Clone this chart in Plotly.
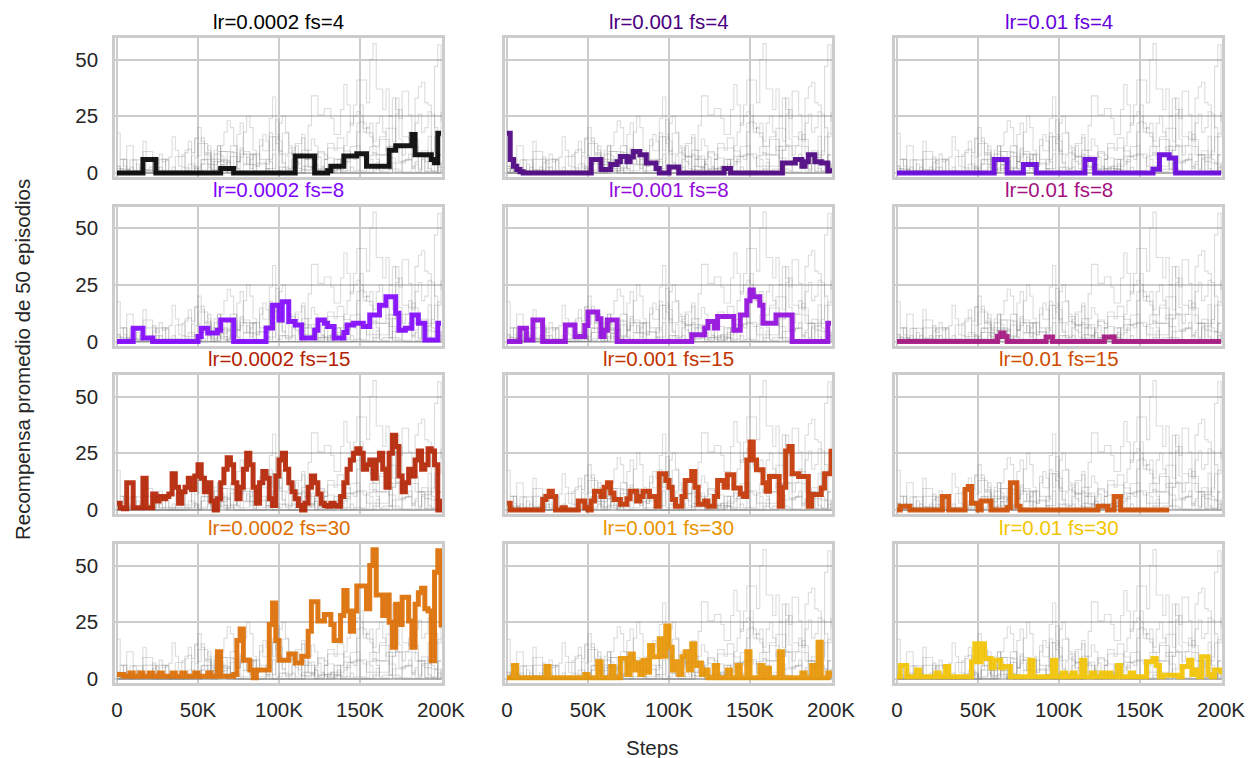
import plotly.graph_objects as go

# x positions (training steps)
STEPS = [i * 2000 for i in range(101)]

TITLES = ["lr=0.0002 fs=4", "lr=0.001 fs=4", "lr=0.01 fs=4",
          "lr=0.0002 fs=8", "lr=0.001 fs=8", "lr=0.01 fs=8",
          "lr=0.0002 fs=15", "lr=0.001 fs=15", "lr=0.01 fs=15",
          "lr=0.0002 fs=30", "lr=0.001 fs=30", "lr=0.01 fs=30"]

X_TICKS = [0, 50000, 100000, 150000, 200000]
X_TICKTEXT = ["0", "50K", "100K", "150K", "200K"]
Y_TICKS = [0, 25, 50]

S_0002_4 = [0,0,0,0,0,0,0,0,6,6,
            6,6,0,0,0,0,0,0,0,0,
            0,0,0,0,0,0,0,0,0,0,
            0,0,2,2,2,2,0,0,0,0,
            0,0,0,0,0,0,0,0,0,0,
            0,0,0,0,0,7.5,7.5,7.5,7.5,7.5,
            7.5,0,0,0,0,1,3,3,3,3,
            7.5,7.5,7.5,7.5,8.5,8.5,8.5,3,3,3,
            3,3,3,3,10,10,12,12,12,12,
            12,17,8,8,8,8,8,6,4.5,17.5,
            17.5]
S_001_4 = [17.5,6,3,1.5,0.5,0,0,0,0,0,
           0,0,0,0,0,0,0,0,0,0,
           0,0,0,0,0,0,6,6,6,1.5,
           1.5,1.5,3.7,3.7,5,7.3,7.3,5,7,9.5,
           9.5,8,8,4.4,4.4,4.4,2,0,0,0,
           2.6,2.6,2.6,0,0,0,0,0,0,0,
           0,0,0,0,0,0,0,2,2,0,
           0,0,0,0,0,0,0,0,0,0,
           0,0,0,0,0,4.4,4.4,4.4,4.4,6,
           6,3,5,8,8,5,5,4.4,4.4,1,
           0]
S_01_4 = [0,0,0,0,0,0,0,0,0,0,
          0,0,0,0,0,0,0,0,0,0,
          0,0,0,0,0,0,0,0,0,0,
          6,6,6,6,0,0,0,0,0,3.7,
          3.7,3.7,3.7,0,0,0,0,0,0,0,
          0,0,0,0,0,0,0,0,6,6,
          6,0,0,0,0,0,0,0,0,0,
          0,0,0,0,0,0,0,0,0,1.7,
          1.7,8,8,8,6.6,6.6,0,0,0,0,
          0,0,0,0,0,0,0,0,0,0,
          0]
S_0002_8 = [0,0,0,0,0,5.8,5.8,5.8,1.5,1.5,
            1.5,0,0,0,0,0,0,0,0,0,
            0,0,0,0,0,2.2,5.8,5.8,3.7,3.7,
            3.7,5,9.5,9.5,9.5,9.5,0,0,0,0,
            0,0,0,0,0,0,6,6,16,16,
            9.5,17.5,17.5,8.8,8.8,7.3,7.3,1.5,1.5,1.5,
            1.5,5,9.5,9.5,8,6.6,6.6,1.5,1.5,1.5,
            4,7.3,7.3,8,8,8,6.6,6.6,11.7,11.7,
            11.7,16,16,19.7,19.7,19.7,12.4,5,5,5.8,
            5.8,11.7,11.7,8,8,0.7,0.7,0.7,0.7,8,
            8]
S_001_8 = [0,0,0,0,5.8,5.8,0.7,0.7,9.5,9.5,
           9.5,0,0,0,0,0,0,0,7.3,7.3,
           7.3,2.2,2.2,2.2,7,13,13,13,10,2.2,
           5,9.5,9.5,9.5,0,0,0,0,0,0,
           0,0,0,0,0,0,0,0,0,0,
           0,0,0,0,0,0,0,3,3,3,
           3,6,8.8,8.8,6,11,11,11,11,11,
           5,5,11.7,11.7,18,22.7,19.7,19.7,16,8,
           8,8,8,11.7,11.7,11.7,11.7,11.7,0,0,
           0,0,0,0,0,0,0,0,0,8,
           8]
S_01_8 = [0,0,0,0,0,0,0,0,0,0,
          0,0,0,0,0,0,0,0,0,0,
          0,0,0,0,0,0,0,0,0,0,
          0,2.2,3.7,2.2,0,0,0,0,0,0,
          0,0,0,0,0,0,2,2,0,0,
          0,0,0,0,0,0,0,0,0,0,
          0,0,0,0,2,2,2,0,0,0,
          0,0,0,0,0,0,0,0,0,0,
          0,0,0,0,0,0,0,0,0,0,
          0,0,0,0,0,0,0,0,0,0,
          0]
S_0002_15 = [3,1,0.5,12,12,1,1,1,14,1,
             1,7,4,6,5,6,7,16,10,3,
             8,10,14,9,15,20,14,8,12,4,
             0,5,12,18,23,20,12,5,10,18,
             25,20,10,3,12,17,14,5,2,15,
             22,25,18,12,8,5,2,0,3,10,
             15,12,7,3,2,1.7,3,2,1.7,6,
             12,18,22,25,27,25,18,20,22,14,
             22,25,18,10,25,33,28,15,8,12,
             18,15,22,26,18,20,27,26,20,0,
             5]
S_001_15 = [3,0,0,0,0,0,0,0,0,0,
            0,4.6,6,8.3,6,0,0,1,0,0,
            0,0,4,4,1,0,4,8.3,8.3,6,
            10,12,7.5,4.6,4.6,2.5,2.5,5,8.3,8.3,
            4,6,8.3,8.3,6,6,1.7,16,16,13,
            10,4.6,1.7,1.7,6,13,13,17,10,2.5,
            2.5,4,1.7,1.7,6,13,13,10,15.5,15.5,
            9.7,9.7,7,6,22,30,22,17.7,17.7,12,
            8.3,14.8,14.8,14.8,1.7,10,26,28,16,16,
            14.8,14.8,14.8,1.7,6.8,6.8,6.8,9.7,16,16,
            27]
S_01_15 = [0,1.7,1.7,1.7,0,0,0,0,0,0,
           0,0,0,0,6,6,0,0,0,0,
           0,9,10.4,3,3,0,4,4,4,0,
           0,0,0,0,1,12,12,1.7,0,0,
           0,0,0,0,0,0,0,0,0,0,
           0,0,0,0,0,0,0,0,0,0,
           0,0,1.7,1.7,1.7,0,0,6,6,0,
           0,0,0,0,0,0,0,0,0,0,
           0,0,0,0,0,None,None,None,None,None,
           None,None,None,None,None,None,None,None,None,None,
           None]
S_0002_30 = [2,2,1.2,1.2,2.6,1.2,1.2,2.6,1.2,1.2,
             2.6,1.2,1.2,2.6,1.2,1.2,1.2,2.6,1.2,1.2,
             2.6,1.2,1.2,1.2,2.6,1.2,1.2,1.2,2.6,1.2,
             1.2,12,1.2,1.2,1.2,1.2,2,17,22,8.3,
             8.3,4,0.5,4,4,4,4,24,33.5,17,
             8.3,8.3,8.3,11,11,7,7,10,10,21,
             34,34,25.6,25.6,28.4,28.4,24,17,17,28,
             39,30,21,30,41,41,41,31,50,57,
             37,37,28,37,25,14,33,24,36,36,
             25.6,14,33,38,40,31,30,8,47,56.5,
             22.7]
S_001_30 = [0.5,0.5,6,0.5,0.5,0.5,0.5,0.5,0.5,0.5,
            0.5,0.5,5.5,0.5,0.5,0.5,0.5,0.5,0.5,0.5,
            0.5,0.5,0.5,0.5,2,0.5,0.5,0.5,7.6,0.5,
            0.5,0.5,5.5,0.5,0.5,9,9,2,11,4,
            7,2,8.3,3,14.8,9.8,9.8,17.7,10,23.4,
            14,4,7.6,2,9.8,12,4,15.5,6,7,
            2,4,0.5,0.5,6,0.5,0.5,0.5,4,0.5,
            0.5,6,0.5,0.5,12,0.5,0.5,0.5,6,0.5,
            4.7,0.5,0.5,0.5,12,0.5,0.5,0.5,0.5,0.5,
            0.5,2.6,0.5,0.5,6,0.5,16.2,0.5,0.5,2.6,
            0.5]
S_01_30 = [1,6,6,1,1,1,4,1,1,1,
           1,1,2.6,1,1,5.5,1,1,1,1,
           1,1,1,7.6,15.5,7.6,15.5,9,9,5,
           8.3,8.3,5,5.5,5.5,1,1,1,1,1,
           1,8.3,1,1,1,1,1,1,8.3,1,
           1,2.6,1,1,2.6,1,1,8.3,1,1,
           2.6,1,1,2.6,1,2.6,1,1,6,1,
           1,1,2.6,1,1,1,1,7.6,7.6,9,
           6,1,1.7,1.7,1.7,1.7,1.7,1,5.5,5.5,
           8.3,2,4,1,9.8,9.8,2,1,4,4,
           2]

SERIES = [S_0002_4, S_001_4, S_01_4, S_0002_8, S_001_8, S_01_8,
          S_0002_15, S_001_15, S_01_15, S_0002_30, S_001_30, S_01_30]

COLORS = ["#000000", "#4a0080", "#6801dd", "#8004ff", "#9309dd", "#a51280",
          "#b42000", "#c33300", "#d04c00", "#dd6c00", "#e99400", "#f4c400"]

W, H = 1249, 758
COL_LEFT = [115, 505, 895]
COL_W = 327
ROW_TOP = [38, 206.5, 375, 544]
ROW_H = 139
FONT = "Liberation Sans, Arial, sans-serif"
FS = 20.5
TXT = "#262626"
GRID = "#cccccc"

fig = go.Figure()
annotations = []
for p in range(12):
    r, c = divmod(p, 3)
    n = "" if p == 0 else str(p + 1)
    xa, ya = "x" + n, "y" + n
    for s in SERIES:
        fig.add_trace(go.Scatter(x=STEPS, y=s, mode="lines", xaxis=xa, yaxis=ya,
                                 line=dict(color="rgba(128,128,128,0.28)", width=1.1, shape="hv"),
                                 showlegend=False, hoverinfo="skip"))
    fig.add_trace(go.Scatter(x=STEPS, y=SERIES[p], mode="lines", xaxis=xa, yaxis=ya,
                             line=dict(color=COLORS[p], width=5, shape="hv"),
                             opacity=0.9, showlegend=False, name=TITLES[p]))
    L = COL_LEFT[c]
    T = ROW_TOP[r]
    fig.layout["xaxis" + n] = dict(
        domain=[L / W, (L + COL_W) / W], anchor=ya, range=[-1230, 200600],
        tickvals=X_TICKS, ticktext=X_TICKTEXT, showticklabels=(r == 3),
        showgrid=True, gridcolor=GRID, gridwidth=1.6, zeroline=False,
        showline=True, linecolor=GRID, linewidth=2.6, mirror=True, automargin=False,
        ticks="outside", ticklen=7, tickcolor="rgba(0,0,0,0)",
        tickfont=dict(family=FONT, size=FS, color=TXT))
    fig.layout["yaxis" + n] = dict(
        domain=[1 - (T + ROW_H) / H, 1 - T / H], anchor=xa, range=[-1.76, 59.5],
        tickvals=Y_TICKS, showticklabels=(c == 0),
        showgrid=True, gridcolor=GRID, gridwidth=1.6, zeroline=False,
        showline=True, linecolor=GRID, linewidth=2.6, mirror=True, automargin=False,
        ticks="outside", ticklen=10, tickcolor="rgba(0,0,0,0)",
        tickfont=dict(family=FONT, size=FS, color=TXT))
    annotations.append(dict(text=TITLES[p], x=(L + COL_W / 2) / W, y=1 - (T - 3) / H,
                            xref="paper", yref="paper", xanchor="center", yanchor="bottom",
                            showarrow=False, font=dict(family=FONT, size=FS, color=COLORS[p])))

annotations.append(dict(text="Steps", x=652 / W, y=1 - 747 / H, xref="paper", yref="paper",
                        xanchor="center", yanchor="middle", showarrow=False,
                        font=dict(family=FONT, size=FS, color=TXT)))
annotations.append(dict(text="Recompensa promedio de 50 episodios", x=22 / W, y=1 - 360 / H,
                        xref="paper", yref="paper", xanchor="center", yanchor="middle",
                        textangle=-90, showarrow=False,
                        font=dict(family=FONT, size=FS, color=TXT)))

fig.update_layout(width=W, height=H, margin=dict(l=0, r=0, t=0, b=0, autoexpand=False),
                  paper_bgcolor="white", plot_bgcolor="white",
                  annotations=annotations, showlegend=False)

fig.write_html("out.html")
